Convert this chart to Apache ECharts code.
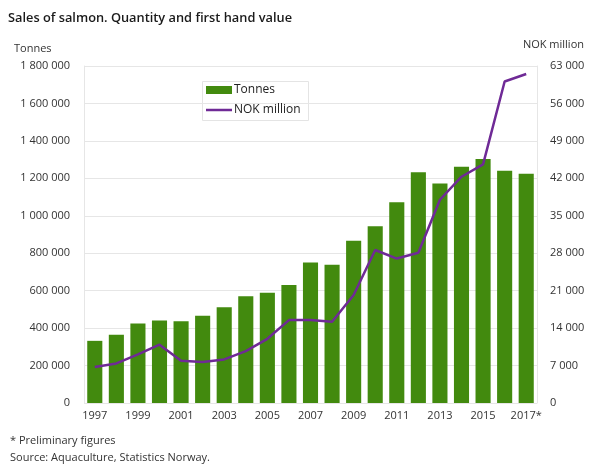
<!DOCTYPE html>
<html>
<head>
<meta charset="utf-8">
<script src="https://cdn.jsdelivr.net/npm/echarts@6/dist/echarts.min.js"></script>
<style>
html,body{margin:0;padding:0;background:#fff;}
#c{width:592px;height:465px;}
</style>
</head>
<body>
<div id="c"></div>
<script>
const years = ['1997','1998','1999','2000','2001','2002','2003','2004','2005','2006','2007','2008','2009','2010','2011','2012','2013','2014','2015','2016','2017*'];
const tonnes = [332000,364000,425000,441000,436000,466000,512000,570000,589000,630000,750000,739000,866000,944000,1072000,1233000,1173000,1262000,1303000,1241000,1225000];
const nokMillion = [6750,7400,9100,10900,7900,7650,8150,9700,12000,15500,15500,15200,20200,28600,27000,28100,38000,42300,44600,60100,61500];
const leftTicks = {min:0, max:1800000, interval:200000};
const rightTicks = {min:0, max:63000, interval:7000};

const fmt = v => String(v).replace(/\B(?=(\d{3})+(?!\d))/g, ' ');
const font = '"Open Sans", "Noto Sans", sans-serif';
const legendText = {fontFamily:font, fontSize:12, color:'#222', padding:[0,0,0,-3]};
const chart = echarts.init(document.getElementById('c'), null, {renderer:'canvas'});
chart.setOption({
  animation:false,
  textStyle:{fontFamily:font},
  title:[
    {text:'Sales of salmon. Quantity and first hand value', left:8, top:9, padding:0, textStyle:{fontFamily:font, fontSize:12.8, lineHeight:18, fontWeight:600, color:'#1a1a1a'}},
    {text:'* Preliminary figures', left:10, top:434, padding:0, textStyle:{fontFamily:font, fontSize:11, lineHeight:14, fontWeight:'normal', color:'#333'}},
    {text:'Source: Aquaculture, Statistics Norway.', left:10, top:451, padding:0, textStyle:{fontFamily:font, fontSize:11, lineHeight:14, fontWeight:'normal', color:'#333'}}
  ],
  graphic:[
    {type:'rect', left:202, top:81, shape:{width:106, height:39}, style:{fill:'#fff', stroke:'#e4e4e4', lineWidth:1}, z:-1}
  ],
  legend:[
    {left:206, top:84, padding:0, itemWidth:26, itemHeight:8, textStyle:legendText,
     data:[{name:'Tonnes', icon:'rect'}]},
    {left:206, top:104, padding:0, itemWidth:26, itemHeight:2.5, textStyle:legendText,
     data:[{name:'NOK million', icon:'rect'}]}
  ],
  grid:{left:84, right:55, top:66, bottom:62, containLabel:false},
  xAxis:{
    type:'category', data:years,
    axisLine:{show:false}, axisTick:{show:false},
    axisLabel:{interval:1, color:'#333', fontSize:11, margin:7, fontFamily:font}
  },
  yAxis:[
    {type:'value', min:leftTicks.min, max:leftTicks.max, interval:leftTicks.interval,
     name:'Tonnes', nameLocation:'end', nameGap:12, nameTextStyle:{align:'left', padding:[0,0,0,-70], color:'#333', fontSize:11, fontFamily:font},
     axisLine:{show:true, lineStyle:{color:'#e6e6e6'}}, axisTick:{show:false},
     axisLabel:{formatter:fmt, color:'#333', fontSize:11, margin:14, fontFamily:font},
     splitLine:{lineStyle:{color:'#e6e6e6'}}},
    {type:'value', min:rightTicks.min, max:rightTicks.max, interval:rightTicks.interval,
     name:'NOK million', nameLocation:'end', nameGap:16, nameTextStyle:{align:'right', padding:[0,-47,0,0], color:'#333', fontSize:11, fontFamily:font},
     axisLine:{show:true, lineStyle:{color:'#e6e6e6'}}, axisTick:{show:false},
     axisLabel:{formatter:fmt, color:'#333', fontSize:11, margin:13, fontFamily:font},
     splitLine:{show:false}}
  ],
  series:[
    {name:'Tonnes', type:'bar', data:tonnes, yAxisIndex:0, barWidth:'70%', itemStyle:{color:'#428a0e'}},
    {name:'NOK million', type:'line', data:nokMillion, yAxisIndex:1, symbol:'none', lineStyle:{color:'#6f2a96', width:2.5}, itemStyle:{color:'#6f2a96'}}
  ]
});
</script>
</body>
</html>
